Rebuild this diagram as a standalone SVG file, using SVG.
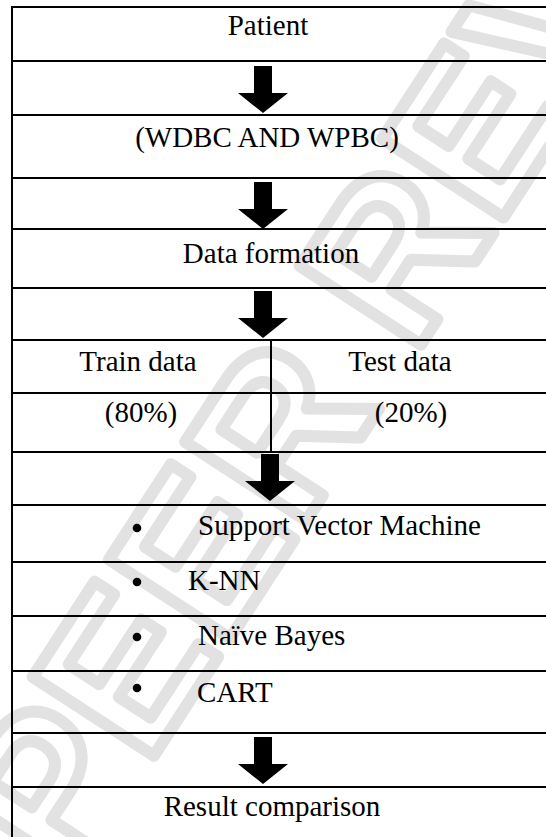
<svg xmlns="http://www.w3.org/2000/svg" width="546" height="837" viewBox="0 0 546 837">
<style>
.t{font-family:"Liberation Serif","Times New Roman",serif;font-size:29px;fill:#000}
.c{text-anchor:middle}
.ln{stroke:#000;stroke-width:2;fill:none}
.wm{font-family:"Liberation Sans",Arial,sans-serif;font-weight:bold;font-size:210px;fill:none;stroke:#e2e2e2;stroke-width:12;stroke-linejoin:round}
</style>
<defs>
<path id="arr" d="M-9,0 H9 V27 H25 L0,47 L-25,27 H-9 Z" fill="#000"/>
</defs>
<rect width="546" height="837" fill="#fff"/>
<g id="watermark">
<text class="wm" transform="translate(70,885) rotate(-57)">PEER REVIEW</text>
</g>
<g id="grid">
<line class="ln" x1="12" y1="7" x2="546" y2="7" stroke-width="2.5"/>
<line class="ln" x1="12" y1="6" x2="12" y2="837"/>
<line class="ln" x1="12" y1="61" x2="546" y2="61"/>
<line class="ln" x1="12" y1="115" x2="546" y2="115"/>
<line class="ln" x1="12" y1="178" x2="546" y2="178"/>
<line class="ln" x1="12" y1="229" x2="546" y2="229"/>
<line class="ln" x1="12" y1="288" x2="546" y2="288"/>
<line class="ln" x1="12" y1="340" x2="546" y2="340"/>
<line class="ln" x1="12" y1="393" x2="546" y2="393"/>
<line class="ln" x1="12" y1="452" x2="546" y2="452"/>
<line class="ln" x1="12" y1="505" x2="546" y2="505"/>
<line class="ln" x1="12" y1="562" x2="546" y2="562"/>
<line class="ln" x1="12" y1="616" x2="546" y2="616"/>
<line class="ln" x1="12" y1="671" x2="546" y2="671"/>
<line class="ln" x1="12" y1="733" x2="546" y2="733"/>
<line class="ln" x1="12" y1="787" x2="546" y2="787"/>
<line class="ln" x1="271" y1="340" x2="271" y2="452"/>
</g>
<g id="connectors">
<use href="#arr" x="263" y="66"/>
<use href="#arr" x="263" y="182"/>
<use href="#arr" x="263" y="291"/>
<use href="#arr" x="270" y="454"/>
<use href="#arr" x="263" y="737"/>
</g>
<g id="patient"><text class="t c" x="268" y="35">Patient</text></g>
<g id="dataset"><text class="t c" x="267" y="147">(WDBC AND WPBC)</text></g>
<g id="formation"><text class="t c" x="271" y="263">Data formation</text></g>
<g id="train"><text class="t c" x="138" y="371">Train data</text><text class="t c" x="141" y="422">(80%)</text></g>
<g id="test"><text class="t c" x="400" y="371">Test data</text><text class="t c" x="411" y="422">(20%)</text></g>
<g id="classifiers">
<circle cx="137" cy="528" r="4.3"/><text class="t" x="198" y="535">Support Vector Machine</text>
<circle cx="137" cy="582" r="4.3"/><text class="t" x="188" y="590">K-NN</text>
<circle cx="137" cy="637" r="4.3"/><text class="t" x="198" y="645">Naïve Bayes</text>
<circle cx="137" cy="688" r="4.3"/><text class="t" x="197" y="702">CART</text>
</g>
<g id="result"><text class="t c" x="272" y="816">Result comparison</text></g>
</svg>
